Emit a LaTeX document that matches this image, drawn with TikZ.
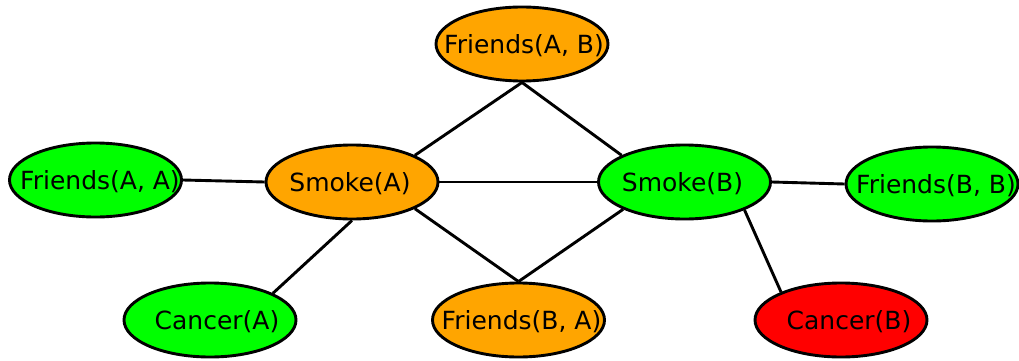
\documentclass[tikz,border=0pt]{standalone}
\usepackage{fontspec}
\setmainfont{DejaVu Sans}
\usetikzlibrary{shapes.geometric}
\definecolor{ngreen}{HTML}{00FF00}
\definecolor{norange}{HTML}{FFA500}
\definecolor{nred}{HTML}{FF0000}
\tikzset{
  ell/.style={ellipse, draw=black, line width=2.9pt, minimum width=172pt, minimum height=74pt, inner sep=0pt},
  lab/.style={font=\fontsize{25}{30}\selectfont, inner sep=0pt, yshift=-1.5pt},
  edge/.style={draw=black, line width=2.9pt}
}
\begin{document}
\begin{tikzpicture}[x=1pt,y=-1pt]
\useasboundingbox (0,0) rectangle (1019,361);
\node[ell, fill=norange, label={[lab,xshift=2pt]center:Friends(A, B)}] (fab) at (522,44) {};
\node[ell, fill=ngreen, label={[lab,xshift=4.5pt]center:Friends(A, A)}] (faa) at (95.5,180) {};
\node[ell, fill=norange, label={[lab,xshift=-2pt]center:Smoke(A)}] (sa) at (352,182) {};
\node[ell, fill=ngreen, label={[lab,xshift=-2pt]center:Smoke(B)}] (sb) at (684.5,182) {};
\node[ell, fill=ngreen, label={[lab,xshift=4pt]center:Friends(B, B)}] (fbb) at (932,184) {};
\node[ell, fill=ngreen, label={[lab,xshift=7pt]center:Cancer(A)}] (ca) at (210,320) {};
\node[ell, fill=norange, label={[lab,xshift=3pt]center:Friends(B, A)}] (fba) at (518.5,320) {};
\node[ell, fill=nred, label={[lab,xshift=8pt]center:Cancer(B)}] (cb) at (841,320) {};
\draw[edge] (faa.east) -- (sa.west);
\draw[edge] (sa.east) -- (sb.west);
\draw[edge] (sb.east) -- (fbb.west);
\draw[edge] (sa.23) -- (fab.south);
\draw[edge] (fab.south) -- (sb.157);
\draw[edge] (sa.-23) -- (fba.north);
\draw[edge] (sb.-156) -- (fba.north);
\draw[edge] (sa.south) -- (ca.23);
\draw[edge] (sb.-25) -- (cb.155);
\end{tikzpicture}
\end{document}
